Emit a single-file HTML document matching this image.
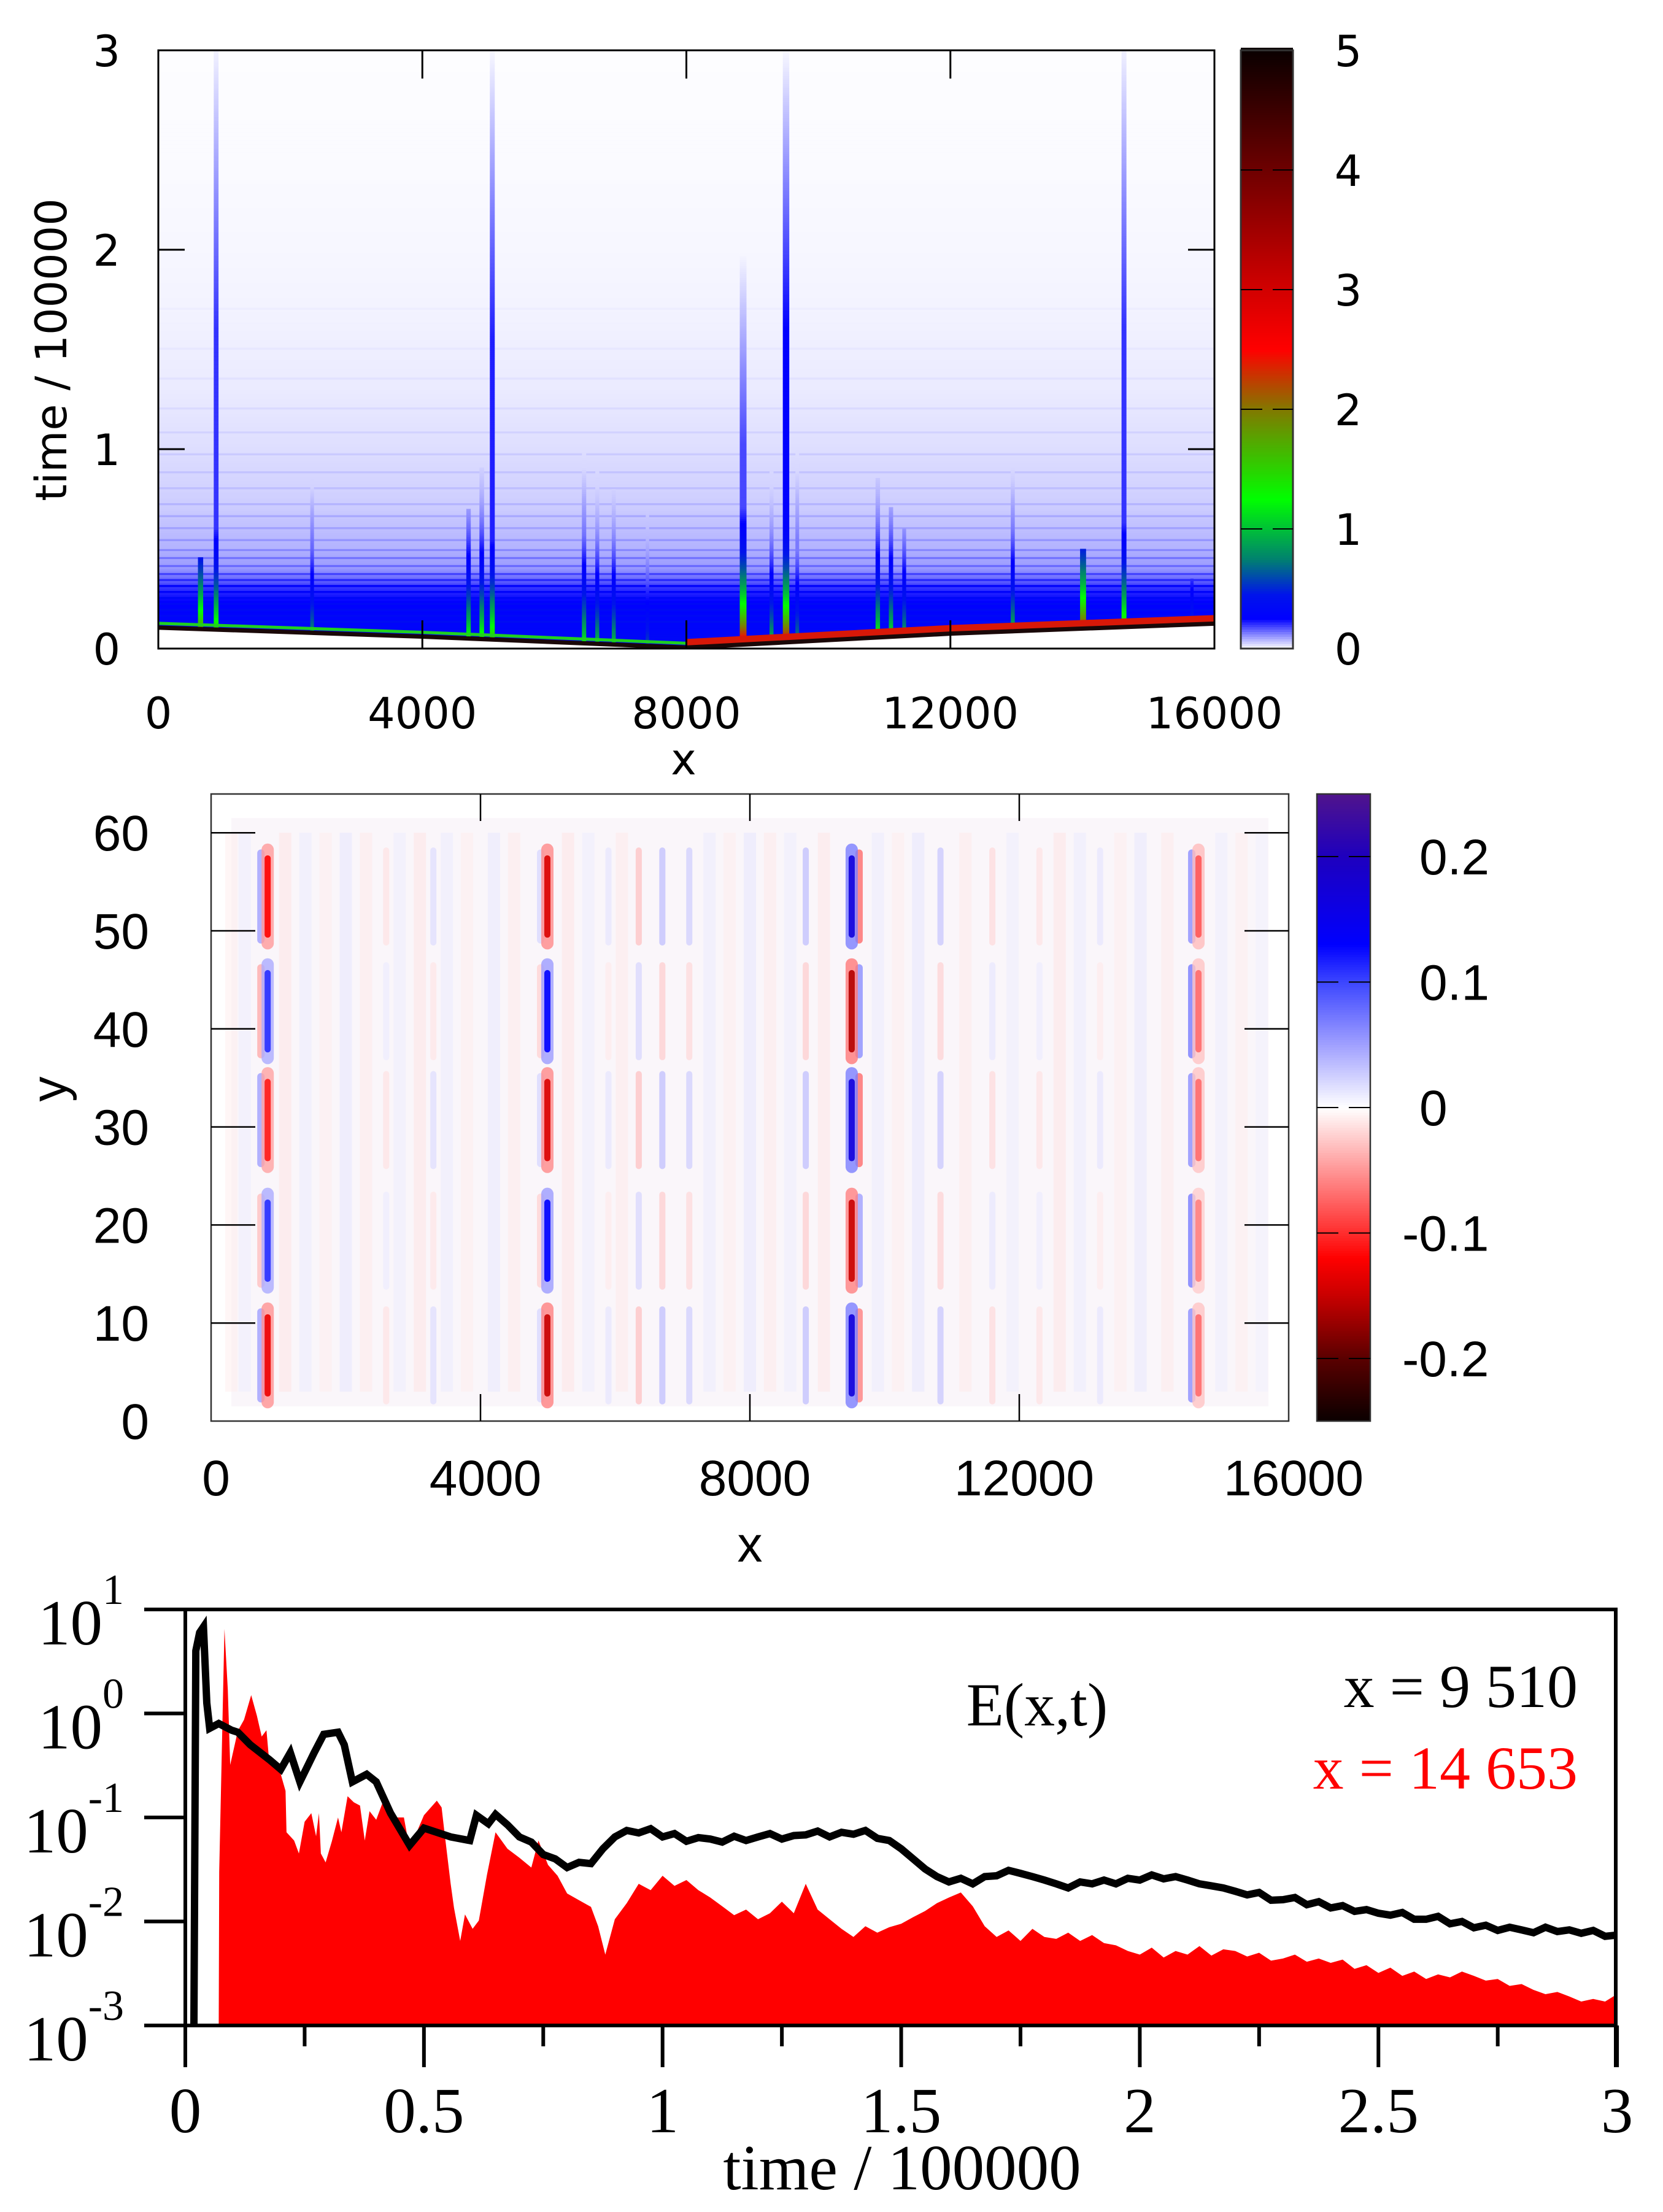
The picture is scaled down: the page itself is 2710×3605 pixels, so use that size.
<!DOCTYPE html>
<html><head><meta charset="utf-8"><style>
html,body{margin:0;padding:0;background:#fff;}
svg{display:block;}
</style></head><body>
<svg id="fig" width="2710" height="3605" viewBox="0 0 2710 3605" xmlns="http://www.w3.org/2000/svg">
<defs>
<clipPath id="clip1"><rect x="258" y="82" width="1721" height="975"/></clipPath>
<clipPath id="clip2"><rect x="344" y="1294" width="1756" height="1022"/></clipPath>
<clipPath id="clip3"><rect x="302" y="2623" width="2331" height="678"/></clipPath>
</defs>
<g id="p1"></g>
<g id="p2"></g>
<g id="p3"></g>
</svg>
<script>
// ---------- Panel 1 data ----------
const bgT = [0, 0.05, 0.1, 0.2, 0.3, 0.35, 0.4, 0.5, 0.7, 1.0, 1.3, 1.7, 2.0, 2.5, 3.0];
const bgV = [0.32, 0.32, 0.3, 0.27, 0.2, 0.14, 0.1, 0.075, 0.05, 0.032, 0.02, 0.012, 0.008, 0.004, 0.002];
const stripeT = [0.13, 0.16, 0.19, 0.22, 0.25, 0.28, 0.31, 0.34, 0.37, 0.41, 0.45, 0.49, 0.54, 0.6, 0.66, 0.72, 0.8, 0.88, 0.97, 1.08, 1.2, 1.35, 1.5, 1.7];
const stripeV = [0.08, 0.06, 0.08, 0.07, 0.08, 0.07, 0.08, 0.06, 0.06, 0.05, 0.05, 0.04, 0.035, 0.03, 0.03, 0.025, 0.02, 0.02, 0.018, 0.015, 0.012, 0.01, 0.008, 0.006];
const frontX = [0, 4000, 8000, 12000, 16000];
const frontT = [0.105, 0.06, 0.005, 0.075, 0.125];
const spikeX    = [640, 876, 2330, 4700, 4900, 5060, 6450, 6650, 6900, 7410, 8860, 9290, 9510, 9680, 10900, 11100, 11300, 12945, 14010, 14630, 15660];
const spikeTop  = [0.45, 3.0, 0.85, 0.7, 0.9, 3.0, 1.0, 0.9, 0.8, 0.7, 2.0, 0.9, 3.0, 1.0, 0.85, 0.7, 0.6, 0.9, 0.5, 3.0, 0.35];
const spikePeak = [1.8, 1.5, 0.8, 1.3, 1.4, 1.6, 1.2, 1.0, 1.0, 0.6, 2.8, 1.0, 2.6, 0.8, 1.3, 1.2, 0.9, 1.0, 2.3, 1.6, 0.5];
const spikeTail = [0.15, 0.2, 0.15, 0.15, 0.14, 0.22, 0.15, 0.12, 0.12, 0.1, 0.18, 0.12, 0.26, 0.13, 0.14, 0.12, 0.1, 0.15, 0.12, 0.2, 0.08];
const xTicks1 = [0, 4000, 8000, 12000, 16000];
const yTicks1 = [0, 1, 2, 3];
const cbTicks1 = [0, 1, 2, 3, 4, 5];

// ---------- Panel 2 data ----------
const streakX = [840, 4993, 9512, 14661];
const segY = [53.5, 41.8, 30.7, 18.4, 6.7];
const streakMain = [
  [-0.12, 0.11, -0.11, 0.11, -0.13],
  [-0.14, 0.13, -0.14, 0.13, -0.15],
  [0.17, -0.16, 0.17, -0.15, 0.17],
  [-0.08, -0.07, -0.07, -0.06, -0.07]
];
const streakFlank = [
  [0.05, -0.04, 0.05, -0.03, 0.05],
  [0.02, -0.02, 0.02, -0.02, 0.02],
  [-0.07, 0.06, -0.07, 0.05, -0.06],
  [0.06, 0.07, 0.06, 0.07, 0.06]
];
const weakX = [6350, 6700, 7100, 8830, 10830, 2600, 3300, 12300, 13200, 5900, 11600];
const weakV = [-0.035, 0.04, 0.03, 0.04, 0.035, -0.015, 0.02, -0.015, 0.015, 0.015, -0.02];
const bgStripeX = [300, 500, 1100, 1400, 1700, 2000, 2300, 2800, 3100, 3500, 3800, 4200, 4500, 5300, 5600, 6100, 7400, 7700, 8000, 8300, 8600, 9100, 9900, 10200, 10500, 11200, 11900, 12600, 12900, 13500, 13800, 14200, 15000, 15300, 15600];
const bgStripeV = [-0.01, 0.01, -0.015, 0.012, -0.01, 0.015, -0.012, 0.01, -0.015, 0.012, -0.01, 0.014, -0.012, -0.015, 0.01, -0.012, 0.012, -0.01, 0.015, -0.012, 0.01, -0.014, 0.012, -0.01, 0.015, -0.012, 0.01, -0.015, 0.012, -0.01, 0.014, -0.012, 0.01, -0.01, 0.008];
const xTicks2 = [0, 4000, 8000, 12000, 16000];
const yTicks2 = [0, 10, 20, 30, 40, 50, 60];
const cbTicks2 = [0.2, 0.1, 0, -0.1, -0.2];

// ---------- Panel 3 data ----------
const blackT = [0.018, 0.022, 0.03, 0.038, 0.045, 0.051, 0.07, 0.097, 0.11, 0.136, 0.176, 0.2, 0.22, 0.24, 0.27, 0.29, 0.32, 0.333, 0.35, 0.38, 0.4, 0.43, 0.47, 0.5, 0.556, 0.596, 0.61, 0.635,
  0.65, 0.675, 0.7, 0.725, 0.75, 0.775, 0.8, 0.825, 0.85, 0.875, 0.9, 0.925, 0.95, 0.975, 1.0, 1.025, 1.05, 1.075, 1.1, 1.125, 1.15, 1.175, 1.2, 1.225, 1.25, 1.275, 1.3, 1.325, 1.35, 1.375, 1.4, 1.425, 1.45, 1.475, 1.5, 1.525, 1.55, 1.575, 1.6, 1.625, 1.65, 1.675, 1.7, 1.725, 1.75, 1.775, 1.8, 1.825, 1.85, 1.875, 1.9, 1.925, 1.95, 1.975, 2.0, 2.025, 2.05, 2.075, 2.1, 2.125, 2.15, 2.175, 2.2, 2.225, 2.25, 2.275, 2.3, 2.325, 2.35, 2.375, 2.4, 2.425, 2.45, 2.475, 2.5, 2.525, 2.55, 2.575, 2.6, 2.625, 2.65, 2.675, 2.7, 2.725, 2.75, 2.775, 2.8, 2.825, 2.85, 2.875, 2.9, 2.925, 2.95, 2.975, 3.0];
const blackE = [0.001, 4, 6, 6.8, 1.26, 0.72, 0.8, 0.69, 0.66, 0.5, 0.36, 0.29, 0.42, 0.22, 0.42, 0.63, 0.66, 0.5, 0.22, 0.26, 0.22, 0.11, 0.054, 0.079, 0.065, 0.06, 0.105, 0.087,
  0.107, 0.085, 0.065, 0.058, 0.044, 0.04, 0.033, 0.037, 0.036, 0.05, 0.065, 0.075, 0.071, 0.078, 0.065, 0.07, 0.059, 0.064, 0.062, 0.058, 0.066, 0.06, 0.065, 0.07, 0.062, 0.067, 0.068, 0.074, 0.065, 0.072, 0.069, 0.075, 0.063, 0.06, 0.05, 0.04, 0.032, 0.027, 0.024, 0.026, 0.023, 0.027, 0.0275, 0.031, 0.029, 0.027, 0.025, 0.023, 0.021, 0.024, 0.023, 0.025, 0.023, 0.026, 0.025, 0.028, 0.0257, 0.027, 0.025, 0.023, 0.022, 0.021, 0.0195, 0.018, 0.019, 0.016, 0.0162, 0.017, 0.0145, 0.0155, 0.0135, 0.0142, 0.0125, 0.013, 0.012, 0.0115, 0.0122, 0.0105, 0.0105, 0.0112, 0.0095, 0.01, 0.0087, 0.0092, 0.0082, 0.0088, 0.0083, 0.0078, 0.0088, 0.008, 0.0083, 0.0077, 0.0082, 0.0072, 0.0074];
const redT = [0.07, 0.071, 0.082, 0.089, 0.094, 0.11, 0.123, 0.138, 0.15, 0.16, 0.17, 0.175, 0.19, 0.2, 0.21, 0.212, 0.228, 0.238, 0.25, 0.264, 0.274, 0.28, 0.284, 0.294, 0.307, 0.32, 0.327, 0.34, 0.353, 0.366, 0.376, 0.386, 0.4, 0.415, 0.43, 0.458, 0.47, 0.5, 0.527, 0.537, 0.543, 0.556, 0.563, 0.576, 0.586, 0.602, 0.615, 0.632,
  0.65, 0.675, 0.7, 0.725, 0.74, 0.76, 0.78, 0.8, 0.825, 0.85, 0.865, 0.88, 0.9, 0.925, 0.95, 0.975, 1.0, 1.025, 1.05, 1.075, 1.1, 1.125, 1.15, 1.175, 1.2, 1.225, 1.25, 1.275, 1.3, 1.325, 1.35, 1.375, 1.4, 1.425, 1.45, 1.475, 1.5, 1.525, 1.55, 1.575, 1.6, 1.625, 1.65, 1.675, 1.7, 1.725, 1.75, 1.775, 1.8, 1.825, 1.85, 1.875, 1.9, 1.925, 1.95, 1.975, 2.0, 2.025, 2.05, 2.075, 2.1, 2.125, 2.15, 2.175, 2.2, 2.225, 2.25, 2.275, 2.3, 2.325, 2.35, 2.375, 2.4, 2.425, 2.45, 2.475, 2.5, 2.525, 2.55, 2.575, 2.6, 2.625, 2.65, 2.675, 2.7, 2.725, 2.75, 2.775, 2.8, 2.825, 2.85, 2.875, 2.9, 2.925, 2.95, 2.975, 3.0];
const redE = [0.001, 0.03, 6.5, 1.7, 0.32, 0.68, 0.87, 1.5, 0.95, 0.6, 0.69, 0.38, 0.35, 0.26, 0.18, 0.072, 0.06, 0.045, 0.091, 0.11, 0.066, 0.11, 0.045, 0.037, 0.059, 0.1, 0.072, 0.16, 0.14, 0.13, 0.06, 0.115, 0.095, 0.145, 0.1, 0.1, 0.05, 0.105, 0.145, 0.125, 0.072, 0.023, 0.0135, 0.0065, 0.0117, 0.0085, 0.0102, 0.028,
  0.072, 0.05, 0.041, 0.033, 0.06, 0.035, 0.0275, 0.0186, 0.016, 0.0138, 0.009, 0.0048, 0.0105, 0.015, 0.023, 0.02, 0.0275, 0.022, 0.025, 0.02, 0.017, 0.014, 0.0115, 0.013, 0.0105, 0.012, 0.0155, 0.012, 0.023, 0.013, 0.0105, 0.0085, 0.0071, 0.009, 0.0078, 0.0088, 0.0095, 0.011, 0.0126, 0.015, 0.017, 0.019, 0.014, 0.009, 0.0071, 0.0082, 0.0065, 0.0085, 0.0071, 0.0068, 0.0078, 0.0065, 0.0074, 0.0062, 0.0059, 0.0052, 0.0048, 0.0056, 0.0045, 0.0052, 0.0048, 0.0058, 0.0047, 0.0054, 0.0052, 0.0046, 0.005, 0.0042, 0.0044, 0.0048, 0.0041, 0.0044, 0.004, 0.0043, 0.0035, 0.0038, 0.0032, 0.0036, 0.003, 0.0033, 0.0028, 0.0031, 0.0029, 0.0033, 0.003, 0.0027, 0.0028, 0.0024, 0.0025, 0.0022, 0.002, 0.0021, 0.0019, 0.0017, 0.0018, 0.0017, 0.002];
const xTicks3 = [0, 0.5, 1, 1.5, 2, 2.5, 3];
const xLabels3 = ['0', '0.5', '1', '1.5', '2', '2.5', '3'];
const minorTicks3 = [0.25, 0.75, 1.25, 1.75, 2.25, 2.75];
const decades3 = [1, 0, -1, -2, -3];

// ---------- helpers ----------
const NS = 'http://www.w3.org/2000/svg';
function el(tag, attrs, parent) {
  const e = document.createElementNS(NS, tag);
  for (const k in attrs) e.setAttribute(k, attrs[k]);
  if (parent) parent.appendChild(e);
  return e;
}
function lerp(xs, ys, x) {
  if (x <= xs[0]) return ys[0];
  for (let i = 1; i < xs.length; i++) if (x <= xs[i]) { const f = (x - xs[i-1]) / (xs[i] - xs[i-1]); return ys[i-1] + f * (ys[i] - ys[i-1]); }
  return ys[ys.length - 1];
}
function cmap(stops, v) {
  if (v <= stops[0][0]) return stops[0][1];
  for (let i = 1; i < stops.length; i++) if (v <= stops[i][0]) {
    const f = (v - stops[i-1][0]) / (stops[i][0] - stops[i-1][0]);
    const a = stops[i-1][1], b = stops[i][1];
    return [0,1,2].map(k => Math.round(a[k] + f * (b[k] - a[k])));
  }
  return stops[stops.length - 1][1];
}
const rgb = c => 'rgb(' + c[0] + ',' + c[1] + ',' + c[2] + ')';
const cm1 = [[0,[255,255,255]],[0.25,[0,0,255]],[0.45,[0,20,235]],[0.75,[0,130,110]],[1.25,[0,255,0]],[2.0,[130,120,0]],[2.5,[255,0,0]],[3.0,[210,0,0]],[4.0,[110,0,0]],[5.0,[10,0,0]]];
const cm2 = [[-0.25,[10,0,0]],[-0.2,[90,0,0]],[-0.15,[200,0,0]],[-0.12,[255,0,0]],[-0.1,[255,45,45]],[-0.05,[255,150,150]],[0,[255,255,255]],[0.05,[160,160,255]],[0.1,[60,70,255]],[0.13,[0,0,255]],[0.2,[30,0,190]],[0.25,[80,20,140]]];

// ================= PANEL 1 =================
const p1 = document.getElementById('p1');
const X1 = x => 258 + x * 1721 / 16000;
const T1 = t => 1057 - t * 325;
const heat1 = el('g', {'clip-path': 'url(#clip1)'}, p1);


for (let t = 0; t < 3; t += 0.01) {
  let v = lerp(bgT, bgV, t);
  for (let i = 0; i < stripeT.length; i++) if (Math.abs(t - stripeT[i]) < 0.006) v += stripeV[i];
  el('rect', {x: 258, y: T1(t + 0.01), width: 1721, height: 3.6, fill: rgb(cmap(cm1, v))}, heat1);
}
for (let i = 0; i < spikeX.length; i++) {
  const tf = lerp(frontX, frontT, spikeX[i]);
  const w = 4 + 2.5 * spikePeak[i];
  const g = el('g', {}, heat1);
  
  
  for (let t = tf; t < spikeTop[i]; t += 0.01) {
    const bg = lerp(bgT, bgV, t);
    const rel = (t - tf) / spikeTop[i];
    const tail = spikeTail[i] * (rel < 0.5 ? 1 : Math.max(0, 1 - (rel - 0.5) / 0.5));
    const v = Math.max(bg, tail, spikePeak[i] * Math.exp(-(t - tf) / 0.25));
    el('rect', {x: X1(spikeX[i]) - w / 2, y: T1(t + 0.01), width: w, height: 3.6, fill: rgb(cmap(cm1, v))}, g);
  }
}
let fpts = frontX.map((x, i) => X1(x) + ',' + T1(frontT[i])).join(' ');
const below = el('polygon', {points: fpts + ' ' + X1(16000) + ',1060 ' + X1(0) + ',1060', fill: '#fff'}, heat1);


const fRed = el('polyline', {points: frontX.slice(2).map((x, i) => X1(x) + ',' + (T1(frontT[i + 2]) - 8)).join(' '), fill: 'none', stroke: '#d81808', 'stroke-width': 12}, heat1);


const fGreen = el('polyline', {points: frontX.slice(0, 3).map((x, i) => X1(x) + ',' + (T1(frontT[i]) - 7)).join(' '), fill: 'none', stroke: '#20d020', 'stroke-width': 5}, heat1);


const fBlack = el('polyline', {points: fpts, fill: 'none', stroke: '#1a0808', 'stroke-width': 7}, heat1);



const box1 = el('rect', {x: 258, y: 82, width: 1721, height: 975, fill: 'none', stroke: '#000', 'stroke-width': 3}, p1);


const font1 = '"DejaVu Sans", "Liberation Sans", sans-serif';
xTicks1.forEach(v => {
  if (v > 0 && v < 16000) {
    el('line', {x1: X1(v), x2: X1(v), y1: 82, y2: 128, stroke: '#000', 'stroke-width': 3}, p1);
    el('line', {x1: X1(v), x2: X1(v), y1: 1057, y2: 1011, stroke: '#000', 'stroke-width': 3}, p1);
  }
  const t = el('text', {x: X1(v), y: 1187, 'font-size': 70, 'font-family': font1, 'text-anchor': 'middle'}, p1);
  t.textContent = v;
  
  
});
yTicks1.forEach(v => {
  if (v > 0 && v < 3) {
    el('line', {x1: 258, x2: 301, y1: T1(v), y2: T1(v), stroke: '#000', 'stroke-width': 3}, p1);
    el('line', {x1: 1979, x2: 1936, y1: T1(v), y2: T1(v), stroke: '#000', 'stroke-width': 3}, p1);
  }
  const t = el('text', {x: 196, y: T1(v) + 26, 'font-size': 70, 'font-family': font1, 'text-anchor': 'end'}, p1);
  t.textContent = v;
  
  
});
const xt1 = el('text', {x: 1114, y: 1262, 'font-size': 70, 'font-family': font1, 'text-anchor': 'middle'}, p1);
xt1.textContent = 'x';


const yt1 = el('text', {x: 0, y: 0, 'font-size': 70, 'font-family': font1, 'text-anchor': 'middle', transform: 'translate(108,570) rotate(-90)'}, p1);
yt1.textContent = 'time / 100000';


const cb1 = el('g', {}, p1);


const C1 = v => 1057 - v * 195;
for (let v = 0; v < 5; v += 0.02) el('rect', {x: 2022, y: C1(v + 0.02) - 0.3, width: 85, height: 4.5, fill: rgb(cmap(cm1, v + 0.01))}, cb1);
el('rect', {x: 2022, y: 82, width: 85, height: 975, fill: 'none', stroke: '#333', 'stroke-width': 3}, cb1);
cbTicks1.forEach(v => {
  if (v > 0 && v < 5) {
    el('line', {x1: 2022, x2: 2057, y1: C1(v), y2: C1(v), stroke: '#000', 'stroke-width': 2}, cb1);
    el('line', {x1: 2074, x2: 2107, y1: C1(v), y2: C1(v), stroke: '#000', 'stroke-width': 2}, cb1);
  }
  const t = el('text', {x: 2197, y: C1(v) + 26, 'font-size': 70, 'font-family': font1, 'text-anchor': 'middle'}, cb1);
  t.textContent = v;
  
  
});

// ================= PANEL 2 =================
const p2 = document.getElementById('p2');
const X2 = x => 344 + x * 1756 / 16000;
const Y2 = y => 2316 - y * 15.98;
const heat2 = el('g', {'clip-path': 'url(#clip2)'}, p2);


el('rect', {x: X2(300), y: Y2(61.5), width: X2(15700) - X2(300), height: Y2(1.5) - Y2(61.5), fill: '#faf6fa'}, heat2);
bgStripeX.forEach((x, i) => {
  const r = el('rect', {x: X2(x) - 10, y: Y2(60), width: 20, height: Y2(3) - Y2(60), fill: rgb(cmap(cm2, bgStripeV[i])), opacity: 0.45}, heat2);
  
  
});
weakX.forEach((x, i) => {
  segY.forEach((y, j) => {
    const v = weakV[i] * (j % 2 === 0 ? 1 : -0.7);
    const r = el('rect', {x: X2(x) - 5, y: Y2(y + 5), width: 10, height: Y2(y - 5) - Y2(y + 5), rx: 5, fill: rgb(cmap(cm2, v)), opacity: 0.6}, heat2);
    
    
  });
});
streakX.forEach((x, i) => {
  const g = el('g', {}, heat2);
  
  
  const off = (i === 2) ? 12 : -11;
  segY.forEach((y, j) => {
    const vf = streakFlank[i][j], vm = streakMain[i][j];
    el('rect', {x: X2(x) + off - 6, y: Y2(y + 4.8), width: 12, height: Y2(y - 4.8) - Y2(y + 4.8), rx: 6, fill: rgb(cmap(cm2, vf)), opacity: 0.8}, g);
    el('rect', {x: X2(x) - 10, y: Y2(y + 5.4), width: 20, height: Y2(y - 5.4) - Y2(y + 5.4), rx: 10, fill: rgb(cmap(cm2, vm * 0.4)), opacity: 0.8}, g);
    el('rect', {x: X2(x) - 5, y: Y2(y + 4.2), width: 10, height: Y2(y - 4.2) - Y2(y + 4.2), rx: 5, fill: rgb(cmap(cm2, vm)), opacity: 0.9}, g);
  });
});
const box2 = el('rect', {x: 344, y: 1294, width: 1756, height: 1022, fill: 'none', stroke: '#333', 'stroke-width': 2.5}, p2);


const font2 = '"Liberation Sans", Arial, sans-serif';
xTicks2.forEach(v => {
  if (v > 0 && v < 16000) {
    el('line', {x1: X2(v), x2: X2(v), y1: 1294, y2: 1338, stroke: '#000', 'stroke-width': 2.5}, p2);
    el('line', {x1: X2(v), x2: X2(v), y1: 2316, y2: 2272, stroke: '#000', 'stroke-width': 2.5}, p2);
  }
  const t = el('text', {x: X2(v) + 8, y: 2437, 'font-size': 82, 'font-family': font2, 'text-anchor': 'middle'}, p2);
  t.textContent = v;
  
  
});
yTicks2.forEach(v => {
  if (v > 0) {
    el('line', {x1: 344, x2: 416, y1: Y2(v), y2: Y2(v), stroke: '#000', 'stroke-width': 2.5}, p2);
    el('line', {x1: 2100, x2: 2028, y1: Y2(v), y2: Y2(v), stroke: '#000', 'stroke-width': 2.5}, p2);
  }
  const t = el('text', {x: 243, y: Y2(v) + 29, 'font-size': 82, 'font-family': font2, 'text-anchor': 'end'}, p2);
  t.textContent = v;
  
  
});
const xt2 = el('text', {x: 1222, y: 2545, 'font-size': 82, 'font-family': font2, 'text-anchor': 'middle'}, p2);
xt2.textContent = 'x';


const yt2 = el('text', {x: 0, y: 0, 'font-size': 82, 'font-family': font2, 'text-anchor': 'middle', transform: 'translate(108,1775) rotate(-90)'}, p2);
yt2.textContent = 'y';


const cb2 = el('g', {}, p2);


const C2 = v => 1805 - v * 2045;
for (let v = -0.25; v < 0.25; v += 0.002) el('rect', {x: 2146, y: C2(v + 0.002) - 0.3, width: 87, height: 4.8, fill: rgb(cmap(cm2, v + 0.001))}, cb2);
el('rect', {x: 2146, y: 1294, width: 87, height: 1022, fill: 'none', stroke: '#333', 'stroke-width': 2.5}, cb2);
cbTicks2.forEach(v => {
  el('line', {x1: 2146, x2: 2181, y1: C2(v), y2: C2(v), stroke: '#000', 'stroke-width': 2}, cb2);
  el('line', {x1: 2198, x2: 2233, y1: C2(v), y2: C2(v), stroke: '#000', 'stroke-width': 2}, cb2);
  const t = el('text', {x: v < 0 ? 2285 : 2313, y: C2(v) + 29, 'font-size': 82, 'font-family': font2}, cb2);
  t.textContent = v;
  
  
});

// ================= PANEL 3 =================
const p3 = document.getElementById('p3');
const X3 = t => 302 + t * 777.7;
const Y3 = e => 2623 + (1 - Math.log10(e)) * 169.5;
const plot3 = el('g', {'clip-path': 'url(#clip3)'}, p3);
const redPts = redT.map((t, i) => X3(t) + ',' + Y3(redE[i])).join(' ');
const redArea = el('polygon', {points: X3(redT[0]) + ',3301 ' + redPts + ' ' + X3(redT[redT.length - 1]) + ',3301', fill: '#ff0000'}, plot3);


const blackLine = el('polyline', {points: blackT.map((t, i) => X3(t) + ',' + Y3(blackE[i])).join(' '), fill: 'none', stroke: '#000', 'stroke-width': 12, 'stroke-linejoin': 'miter'}, plot3);


const ax3 = el('g', {stroke: '#000', 'stroke-width': 6}, p3);


el('line', {x1: 235, x2: 2636, y1: 2623, y2: 2623}, ax3);
el('line', {x1: 235, x2: 2636, y1: 3301, y2: 3301}, ax3);
el('line', {x1: 2633, x2: 2633, y1: 2620, y2: 3369}, ax3);
el('line', {x1: 302, x2: 302, y1: 2620, y2: 3369}, ax3);
const serif = '"Liberation Serif", "Times New Roman", serif';
decades3.forEach(d => {
  const y = 2623 + (1 - d) * 169.5;
  el('line', {x1: 235, x2: 302, y1: y, y2: y}, ax3);
  const t = el('text', {x: 202, y: y + 57, 'font-size': 105, 'font-family': serif, 'text-anchor': 'end'}, p3);
  
  
  t.appendChild(document.createTextNode('10'));
  const s = el('tspan', {dy: -66, 'font-size': 70}, t);
  s.textContent = d < 0 ? '-' + (-d) : String(d);
});
xTicks3.forEach((v, i) => {
  el('line', {x1: X3(v), x2: X3(v), y1: 3301, y2: 3369}, ax3);
  const t = el('text', {x: X3(v), y: 3475, 'font-size': 105, 'font-family': serif, 'text-anchor': 'middle'}, p3);
  t.textContent = xLabels3[i];
  
  
});
minorTicks3.forEach(v => el('line', {x1: X3(v), x2: X3(v), y1: 3301, y2: 3335}, ax3));
const xt3 = el('text', {x: 1470, y: 3568, 'font-size': 105, 'font-family': serif, 'text-anchor': 'middle'}, p3);
xt3.textContent = 'time / 100000';


const et = el('text', {x: 1690, y: 2812, 'font-size': 100, 'font-family': serif, 'text-anchor': 'middle'}, p3);
et.textContent = 'E(x,t)';


const l1 = el('text', {x: 2571, y: 2782, 'font-size': 100, 'font-family': serif, 'text-anchor': 'end', fill: '#000'}, p3);
l1.textContent = 'x = 9 510';


const l2 = el('text', {x: 2571, y: 2915, 'font-size': 100, 'font-family': serif, 'text-anchor': 'end', fill: '#ff0000'}, p3);
l2.textContent = 'x = 14 653';


</script>
</body></html>
